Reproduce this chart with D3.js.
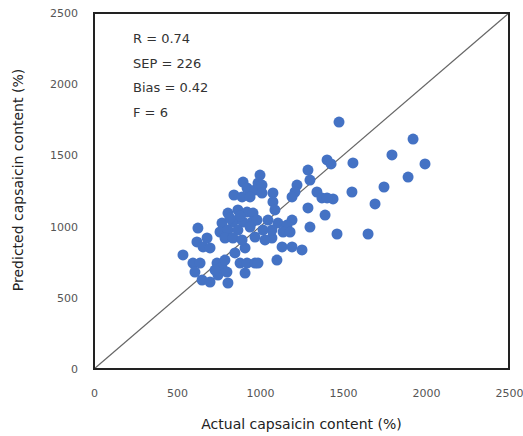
<!DOCTYPE html>
<html>
<head>
<meta charset="utf-8">
<script src="https://cdn.jsdelivr.net/npm/d3@7"></script>
<style>
  body { margin: 0; background: #fff; }
  svg { display: block; font-family: "DejaVu Sans", sans-serif; }
</style>
</head>
<body>
<div id="chart"></div>
<script>
// axis ticks
var tickValues = [0, 500, 1000, 1500, 2000, 2500];

// statistics box
var statLines = ["R = 0.74", "SEP = 226", "Bias = 0.42", "F = 6"];

// measured vs predicted
var actual = [1476, 1922, 1795, 1560, 1994, 1892, 1747, 1554, 1693, 1651,
  1464, 1440, 1404, 1428, 1289, 1301, 1223, 1211, 1343, 1373,
  1404, 1289, 1193, 1193, 1392, 1301, 1000, 898, 922, 970,
  988, 843, 892, 940, 1012, 1012, 1078, 1078, 1090, 807,
  867, 922, 958, 771, 837, 898, 952, 759, 807, 867,
  789, 837, 626, 681, 620, 657, 699, 536, 910, 892,
  596, 639, 608, 741, 771, 789, 849, 880, 922, 970,
  910, 651, 699, 807, 747, 982, 1048, 1108, 1163, 1139,
  1181, 1072, 1030, 970, 1133, 1193, 1253, 1102, 988, 1072,
  940, 819, 880, 729, 801, 1018];
var predicted = [1734, 1615, 1503, 1447, 1440, 1348, 1278, 1243, 1159, 948,
  948, 1194, 1468, 1440, 1397, 1327, 1292, 1243, 1243, 1201,
  1201, 1131, 1208, 1046, 1081, 997, 1362, 1313, 1271, 1257,
  1306, 1222, 1208, 1208, 1292, 1236, 1236, 1173, 1117, 1095,
  1117, 1102, 1095, 1025, 1032, 1032, 1032, 962, 976, 976,
  920, 920, 990, 920, 892, 857, 850, 801, 850, 906,
  744, 744, 681, 744, 716, 765, 815, 744, 744, 744,
  674, 625, 611, 604, 660, 1046, 1046, 1025, 1011, 962,
  962, 920, 906, 927, 857, 857, 836, 765, 744, 976,
  997, 1060, 1074, 695, 681, 976];

var width = 523, height = 436;
var plotLeft = 94, plotRight = 509, plotTop = 13, plotBottom = 369;

var svg = d3.select("#chart").append("svg")
  .attr("width", width)
  .attr("height", height);

var x = d3.scaleLinear().domain([0, 2500]).range([plotLeft, plotRight]);
var y = d3.scaleLinear().domain([0, 2500]).range([plotBottom, plotTop]);

// axes (labels only)
svg.append("g")
  .attr("transform", "translate(0," + (plotBottom + 17) + ")")
  .call(d3.axisBottom(x).tickValues(tickValues).tickSize(0).tickFormat(d3.format("d")));
svg.append("g")
  .attr("transform", "translate(" + (plotLeft - 13) + ",0)")
  .call(d3.axisLeft(y).tickValues(tickValues).tickSize(0).tickFormat(d3.format("d")));
svg.selectAll(".domain").remove();
svg.selectAll(".tick text")
  .attr("font-family", "DejaVu Sans, sans-serif")
  .attr("font-size", "11px")
  .attr("fill", "#555");

// diagonal 1:1 line
svg.append("line")
  .attr("x1", x(0)).attr("y1", y(0))
  .attr("x2", x(2500)).attr("y2", y(2500))
  .attr("stroke", "#666")
  .attr("stroke-width", 1.2);

// points
svg.append("g").selectAll("circle")
  .data(actual)
  .enter().append("circle")
  .attr("cx", function(d) { return x(d); })
  .attr("cy", function(d, i) { return y(predicted[i]); })
  .attr("r", 5.5)
  .attr("fill", "#4472c4");

// frame
svg.append("rect")
  .attr("x", plotLeft).attr("y", plotTop)
  .attr("width", plotRight - plotLeft).attr("height", plotBottom - plotTop)
  .attr("fill", "none")
  .attr("stroke", "#222")
  .attr("stroke-width", 2);

// stats text
svg.append("g").selectAll("text")
  .data(statLines)
  .enter().append("text")
  .attr("x", 133)
  .attr("y", function(d, i) { return 43 + i * 24.5; })
  .attr("font-size", "13px")
  .attr("fill", "#333")
  .text(function(d) { return d; });

// axis titles
svg.append("text")
  .attr("x", (plotLeft + plotRight) / 2)
  .attr("y", 429)
  .attr("text-anchor", "middle")
  .attr("font-size", "14px")
  .attr("fill", "#222")
  .text("Actual capsaicin content (%)");

svg.append("text")
  .attr("transform", "translate(23,180) rotate(-90)")
  .attr("text-anchor", "middle")
  .attr("font-size", "14px")
  .attr("fill", "#222")
  .text("Predicted capsaicin content (%)");
</script>
</body>
</html>
